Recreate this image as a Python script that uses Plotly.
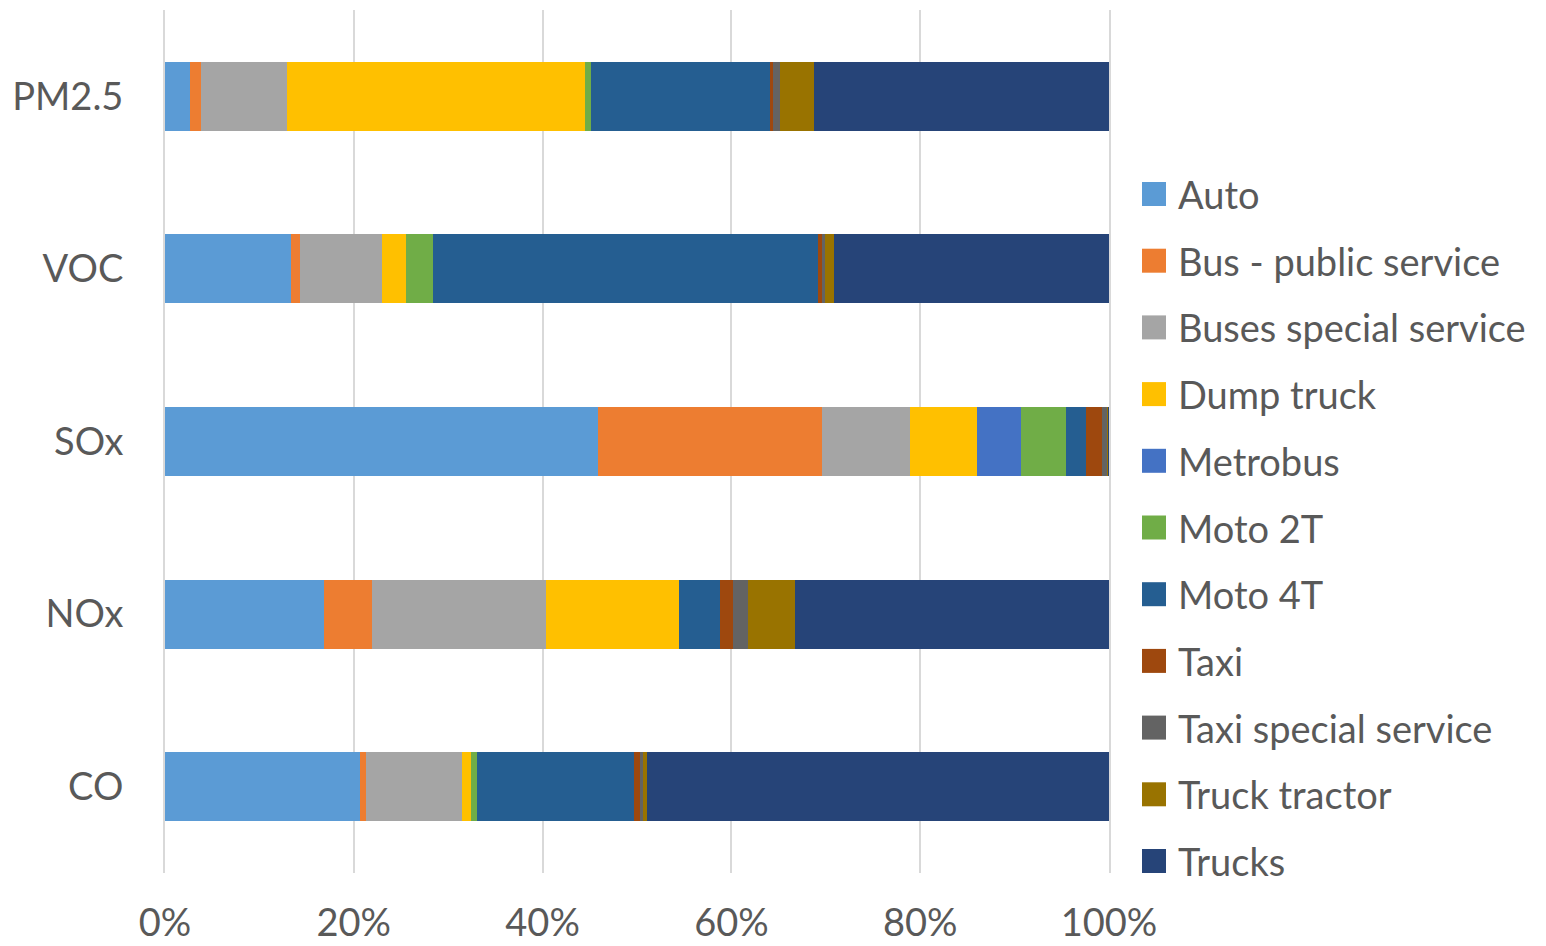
import plotly.graph_objects as go

categories = ["PM2.5", "VOC", "SOx", "NOx", "CO"]

series_names = ["Auto", "Bus - public service", "Buses special service", "Dump truck",
                "Metrobus", "Moto 2T", "Moto 4T", "Taxi", "Taxi special service",
                "Truck tractor", "Trucks"]

# shares (%) per category, order: PM2.5, VOC, SOx, NOx, CO
auto = [2.65, 13.35, 45.9, 16.8, 20.7]
bus_public = [1.16, 0.98, 23.7, 5.1, 0.6]
buses_special = [9.09, 8.67, 9.3, 18.5, 10.2]
dump_truck = [31.6, 2.5, 7.1, 14.1, 0.9]
metrobus = [0.0, 0.0, 4.7, 0.0, 0.0]
moto_2t = [0.6, 2.9, 4.7, 0.0, 0.7]
moto_4t = [19.0, 40.8, 2.2, 4.3, 16.6]
taxi = [0.3, 0.4, 1.7, 1.4, 0.6]
taxi_special = [0.7, 0.35, 0.5, 1.6, 0.3]
truck_tractor = [3.7, 0.95, 0.15, 4.9, 0.5]
trucks = [31.2, 29.1, 0.05, 33.3, 48.9]

x_tick_vals = [0, 20, 40, 60, 80, 100]
x_tick_text = ["0%", "20%", "40%", "60%", "80%", "100%"]

colors = ["#5B9BD5", "#ED7D31", "#A5A5A5", "#FFC000", "#4472C4", "#70AD47",
          "#255E91", "#9E480E", "#636363", "#997300", "#264478"]

data = [auto, bus_public, buses_special, dump_truck, metrobus, moto_2t, moto_4t,
        taxi, taxi_special, truck_tractor, trucks]

FONT = "Lato"
TXT = "#595959"
FS = 38

fig = go.Figure()
for name, vals, col in zip(series_names, data, colors):
    fig.add_trace(go.Bar(
        name=name, y=categories, x=vals, orientation="h",
        marker=dict(color=col, line=dict(width=0)),
        showlegend=False,
    ))

W, H = 1546, 946
L, R, T, B = 165, 1109, 10, 873

# manual legend
leg_y0 = 194
leg_dy = 66.7
for i, (name, col) in enumerate(zip(series_names, colors)):
    yc = leg_y0 + i * leg_dy
    fig.add_shape(type="rect", xref="paper", yref="paper",
                  x0=(1142 - L) / (R - L), x1=(1166 - L) / (R - L),
                  y0=(B - (yc + 12)) / (B - T),
                  y1=(B - (yc - 12)) / (B - T),
                  fillcolor=col, line=dict(width=0))
    fig.add_annotation(xref="paper", yref="paper",
                       x=(1176 - L) / (R - L), y=(B - yc) / (B - T),
                       xanchor="left", yanchor="middle", text=name, showarrow=False,
                       font=dict(family=FONT, size=FS, color=TXT))

fig.update_layout(
    barmode="stack",
    bargap=0.6,
    width=W, height=H,
    margin=dict(l=L, r=W - R, t=T, b=H - B, pad=0, autoexpand=False),
    plot_bgcolor="white", paper_bgcolor="white",
    font=dict(family=FONT, size=FS, color=TXT),
    xaxis=dict(range=[0, 100], tickvals=x_tick_vals, ticktext=x_tick_text,
               showgrid=True, gridcolor="#D9D9D9", gridwidth=2, zeroline=False,
               showline=False, ticks="", ticklabelstandoff=24, automargin=False,
               tickfont=dict(family=FONT, size=FS, color=TXT)),
    yaxis=dict(autorange="reversed", showgrid=False, showline=True, mirror=True,
               linecolor="#D9D9D9", linewidth=2, ticks="", automargin=False,
               ticklabelstandoff=32, tickfont=dict(family=FONT, size=FS, color=TXT)),
)

fig.write_html("out.html")
